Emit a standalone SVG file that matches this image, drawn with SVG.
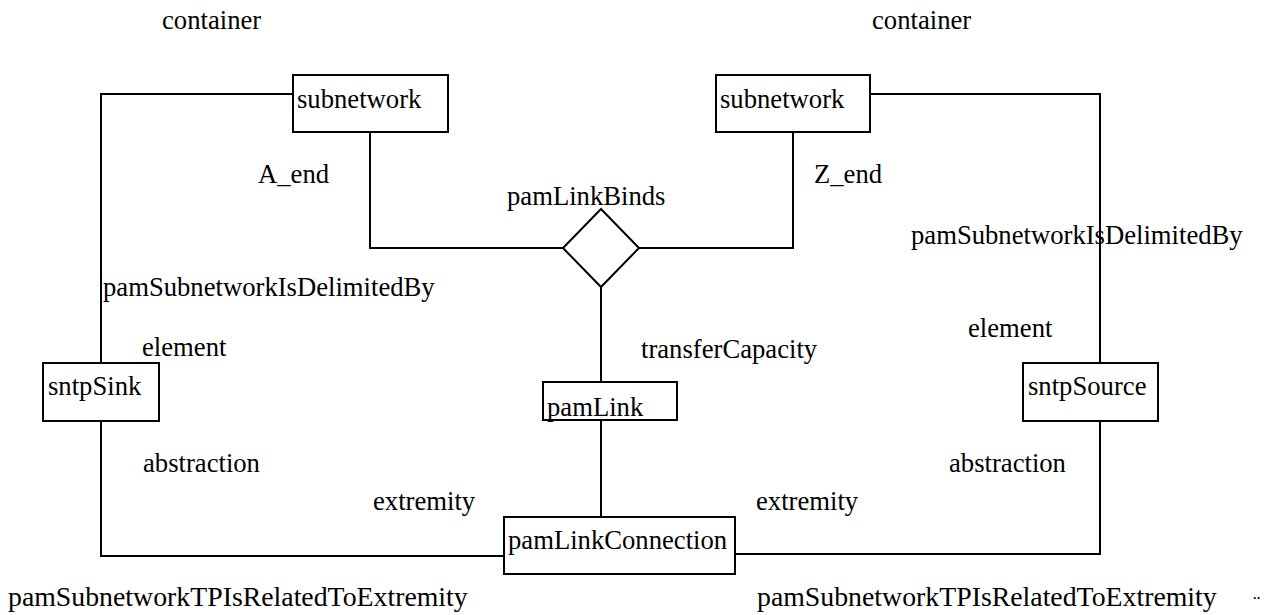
<svg xmlns="http://www.w3.org/2000/svg" width="1268" height="615" viewBox="0 0 1268 615">
<style>
text{font-family:'Liberation Serif','Times New Roman',Times,'DejaVu Serif',serif;font-size:26.67px;fill:#000}
.big{font-size:27.8px}
.box{fill:#fff;stroke:#000;stroke-width:2}
.ln{fill:none;stroke:#000;stroke-width:2}
</style>
<rect width="1268" height="615" fill="#fff"/>
<g id="connectors">
<polyline class="ln" points="293,94 101,94 101,363"/>
<polyline class="ln" points="101,421 101,556 504,556"/>
<polyline class="ln" points="370,132 370,248 563,248"/>
<polyline class="ln" points="793,132 793,248 639,248"/>
<polyline class="ln" points="870,94 1100,94 1100,363"/>
<polyline class="ln" points="1100,421 1100,554 735,554"/>
<line class="ln" x1="601" y1="287" x2="601" y2="382"/>
<line class="ln" x1="601" y1="420" x2="601" y2="517"/>
</g>
<g id="labels">
<text x="162" y="29">container</text>
<text x="872" y="29">container</text>
<text x="258" y="183">A_end</text>
<text x="814" y="183">Z_end</text>
<text x="507" y="205">pamLinkBinds</text>
<text x="911" y="244">pamSubnetworkIsDelimitedBy</text>
<text x="103" y="296">pamSubnetworkIsDelimitedBy</text>
<text x="142" y="356">element</text>
<text x="968" y="337">element</text>
<text x="641" y="358">transferCapacity</text>
<text x="143" y="472">abstraction</text>
<text x="949" y="472">abstraction</text>
<text x="373" y="510">extremity</text>
<text x="756" y="510">extremity</text>
<text class="big" x="8" y="606">pamSubnetworkTPIsRelatedToExtremity</text>
<text class="big" x="757" y="606">pamSubnetworkTPIsRelatedToExtremity</text>
<text x="1253" y="610" style="font-size:22px">¨</text>
</g>
<g id="subnetwork-a">
<rect class="box" x="293" y="75" width="155" height="57"/>
<text x="297" y="108">subnetwork</text>
</g>
<g id="subnetwork-z">
<rect class="box" x="716" y="75" width="154" height="57"/>
<text x="720" y="108">subnetwork</text>
</g>
<g id="pamLinkBinds">
<polygon class="box" points="601,209 639,248 601,287 563,248"/>
</g>
<g id="sntpSink">
<rect class="box" x="43" y="363" width="116" height="58"/>
<text x="48" y="395">sntpSink</text>
</g>
<g id="sntpSource">
<rect class="box" x="1023" y="363" width="135" height="58"/>
<text x="1028" y="395">sntpSource</text>
</g>
<g id="pamLink">
<rect class="box" x="543" y="382" width="134" height="38"/>
<text x="547" y="416">pamLink</text>
</g>
<g id="pamLinkConnection">
<rect class="box" x="504" y="517" width="231" height="57"/>
<text x="508" y="549">pamLinkConnection</text>
</g>
</svg>
